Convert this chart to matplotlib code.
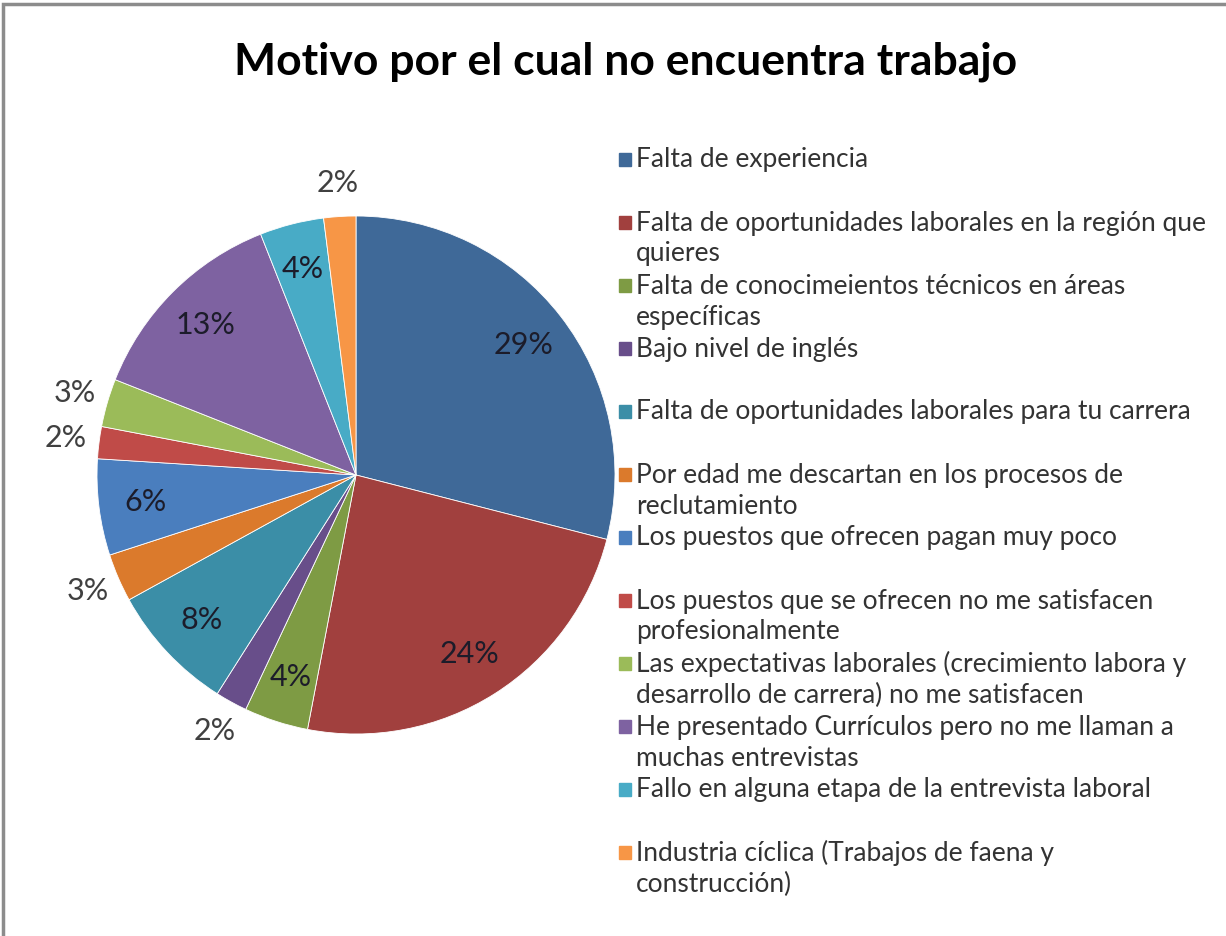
import matplotlib.pyplot as plt
from matplotlib.patches import Rectangle
import numpy as np

plt.rcParams['font.family'] = ['Lato', 'DejaVu Sans']

# datos del grafico
motivos = ["Falta de experiencia",
           "Falta de oportunidades laborales en la región que\nquieres",
           "Falta de conocimeientos técnicos en áreas\nespecíficas",
           "Bajo nivel de inglés",
           "Falta de oportunidades laborales para tu carrera",
           "Por edad me descartan en los procesos de\nreclutamiento",
           "Los puestos que ofrecen pagan muy poco",
           "Los puestos que se ofrecen no me satisfacen\nprofesionalmente",
           "Las expectativas laborales (crecimiento labora y\ndesarrollo de carrera) no me satisfacen",
           "He presentado Currículos pero no me llaman a\nmuchas entrevistas",
           "Fallo en alguna etapa de la entrevista laboral",
           "Industria cíclica (Trabajos de faena y\nconstrucción)"]
porcentajes = [29, 24, 4, 2, 8, 3, 6, 2, 3, 13, 4, 2]
colores = ['#3F6998', '#A1403E', '#7E9B44', '#684E8A', '#3B8EA7', '#DB7A2C',
           '#4A7EBE', '#C04B48', '#9BBB59', '#7E62A1', '#48ABC6', '#F79646']

W, H = 1226, 936
fig = plt.figure(figsize=(W/100, H/100), dpi=100)

# borde gris (solo se ve arriba y a la izquierda)
fig.add_artist(Rectangle((3/W, -0.05), 1.1, 1.05 - 4/H, transform=fig.transFigure,
                         fill=False, edgecolor='#8c8c8c', linewidth=2.5))

fig.text(626/W, 1 - 62/H, "Motivo por el cual no encuentra trabajo",
         ha='center', va='center', fontsize=32, fontweight='bold', color='black')

# torta: centro (356,475) radio 259 px
cx, cy, R = 356, 475, 259
ax = fig.add_axes([(cx - R)/W, 1 - (cy + R)/H, 2*R/W, 2*R/H])
wedges, _ = ax.pie(porcentajes, colors=colores, startangle=90, counterclock=False,
                   wedgeprops=dict(edgecolor='white', linewidth=0.6))
ax.set_xlim(-1, 1)
ax.set_ylim(-1, 1)
ax.set_aspect('equal')
ax.axis('off')

for w, p in zip(wedges, porcentajes):
    ang = np.deg2rad((w.theta1 + w.theta2) / 2)
    if p >= 4:
        r = 0.82
        col = '#1c1c2a'
    else:
        r = 1.13
        col = '#404040'
    ax.text(r*np.cos(ang), r*np.sin(ang), str(p) + "%", ha='center', va='center',
            fontsize=22, color=col, clip_on=False)

# leyenda a mano (estilo excel, cuadrito en la primera linea)
y0 = 160
for i, (m, c) in enumerate(zip(motivos, colores)):
    y = y0 + i*63
    fig.add_artist(Rectangle((619/W, 1 - (y + 6)/H), 12/W, 13/H,
                             transform=fig.transFigure, color=c))
    for j, linea in enumerate(m.split('\n')):
        fig.text(636/W, 1 - (y + j*31)/H, linea, ha='left', va='center',
                 fontsize=19, color='#333333')

plt.savefig("out.png", dpi=100)
